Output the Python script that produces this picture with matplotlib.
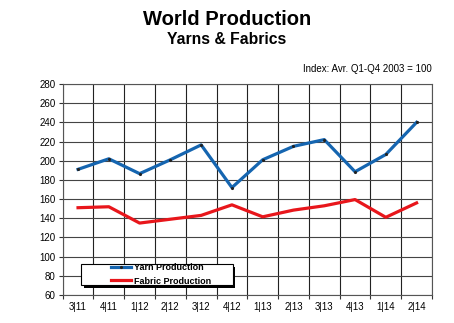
import matplotlib
matplotlib.use('Agg')
import matplotlib.pyplot as plt
from matplotlib.patches import Rectangle
import numpy as np

plt.rcParams['font.family'] = ['Liberation Sans', 'DejaVu Sans']

# Quarters and index values
quarters = ['3|11', '4|11', '1|12', '2|12', '3|12', '4|12',
            '1|13', '2|13', '3|13', '4|13', '1|14', '2|14']
yarn = [191, 202, 186.5, 201, 216.5, 172, 201, 215, 222, 188.5, 206.5, 240]
fabric = [151, 152, 135, 139, 143, 154, 141.5, 148.5, 153, 159.5, 141, 156]

fig = plt.figure(figsize=(4.54, 3.23), dpi=100)
ax = fig.add_axes([0.138, 0.0867, 0.8135, 0.6533])

x = np.arange(len(quarters))
ax.plot(x, yarn, color='#1565b0', lw=2.3, marker='.', ms=2.5, mfc='#222222',
        mec='#222222', label='Yarn Production', zorder=3)
ax.plot(x, fabric, color='#e8161b', lw=2.3, label='Fabric Production', zorder=3)

ax.set_xlim(-0.5, len(quarters) - 0.5)
ax.set_ylim(60, 280)
ax.set_yticks(np.arange(60, 281, 20))
ax.set_xticks(np.arange(-0.5, len(quarters), 1.0))
ax.set_xticklabels([])
ax.set_xticks(x, minor=True)
ax.set_xticklabels(quarters, minor=True)
ax.tick_params(axis='x', which='minor', length=0, pad=5, labelsize=7)
ax.tick_params(axis='x', which='major', length=3, width=0.8, color='#333333')
ax.tick_params(axis='y', length=3, width=0.8, color='#333333', labelsize=7, pad=2)
ax.grid(True, which='major', axis='x', color='#222222', lw=0.8)
ax.grid(True, which='major', axis='y', color='#444444', lw=0.8)
for s in ax.spines.values():
    s.set_color('#555555')
    s.set_linewidth(0.8)

# legend box with shadow
ax.add_patch(Rectangle((0.057, 0.035), 0.41, 0.10, transform=ax.transAxes,
                       facecolor='black', edgecolor='none', zorder=4))
ax.add_patch(Rectangle((0.05, 0.047), 0.41, 0.10, transform=ax.transAxes,
                       facecolor='white', edgecolor='black', lw=0.8, zorder=5))
leg = ax.legend(loc='center left', bbox_to_anchor=(0.13, 0.097), frameon=False,
                prop={'size': 6.5, 'weight': 'bold'}, handlelength=2.3,
                handletextpad=0.3, labelspacing=0.45, borderpad=0,
                borderaxespad=0)
leg.set_zorder(6)

fig.text(0.5, 0.94, 'World Production', ha='center', va='center',
         fontsize=14.5, fontweight='bold')
fig.text(0.5, 0.878, 'Yarns & Fabrics', ha='center', va='center',
         fontsize=11.3, fontweight='bold')
fig.text(0.951, 0.786, 'Index: Avr. Q1-Q4 2003 = 100', ha='right', va='center',
         fontsize=7)

fig.savefig('out.png', dpi=100)
